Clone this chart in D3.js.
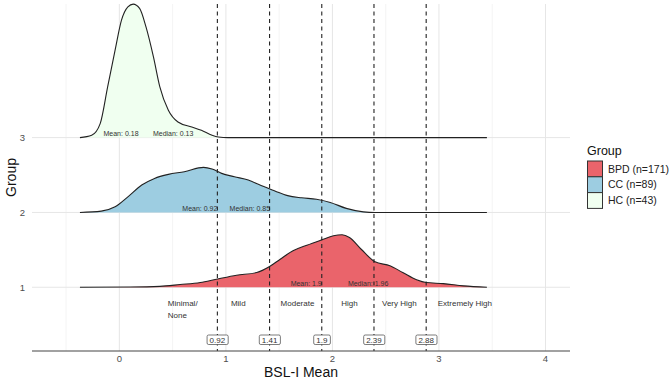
<!DOCTYPE html>
<html><head><meta charset="utf-8">
<script src="https://cdn.jsdelivr.net/npm/d3@7"></script>
<style>body{margin:0;background:#fff}svg{display:block;font-family:"Liberation Sans",Arial,sans-serif}</style>
</head><body><svg id="c" width="669" height="381"></svg>
<script>
// ---- data ----
const groups = ["BPD (n=171)", "CC (n=89)", "HC (n=43)"];
const groupLevels = [1, 2, 3];
const groupColors = ["#EA646B", "#9DCDE1", "#F0FFF0"];
// density heights (in group units): [BSL-I value, height]
const densityBPD = [[-0.37,0],[0.10,0.003],[0.38,0.012],[0.57,0.036],[0.76,0.063],[0.91,0.107],[1.10,0.161],[1.29,0.197],[1.41,0.277],[1.51,0.375],[1.63,0.487],[1.76,0.562],[1.90,0.634],[2.01,0.688],[2.09,0.701],[2.16,0.665],[2.27,0.508],[2.40,0.340],[2.54,0.287],[2.66,0.197],[2.79,0.100],[2.88,0.063],[3.04,0.049],[3.23,0.019],[3.45,0]];
const densityCC = [[-0.37,0],[-0.17,0.017],[-0.04,0.075],[0.08,0.209],[0.21,0.366],[0.33,0.455],[0.46,0.509],[0.61,0.544],[0.79,0.602],[0.87,0.580],[0.96,0.522],[1.08,0.477],[1.21,0.433],[1.33,0.359],[1.46,0.288],[1.58,0.225],[1.71,0.196],[1.85,0.177],[1.98,0.134],[2.13,0.054],[2.29,0.008],[2.40,0],[3.45,0]];
const densityHC = [[-0.37,0],[-0.26,0.031],[-0.18,0.187],[-0.11,0.678],[-0.04,1.169],[0.02,1.57],[0.08,1.748],[0.13,1.785],[0.19,1.727],[0.25,1.48],[0.32,1.079],[0.38,0.678],[0.46,0.366],[0.55,0.209],[0.68,0.142],[0.77,0.098],[0.87,0.031],[0.93,0.008],[1.02,0],[3.45,0]];
const densities = [densityBPD, densityCC, densityHC];
const means = [1.9, 0.92, 0.18];
const medians = [1.96, 0.85, 0.13];
const cutoffs = [0.92, 1.41, 1.9, 2.39, 2.88];
const cutoffLabels = ["0.92", "1.41", "1.9", "2.39", "2.88"];
const severityLabels = ["Minimal/\nNone", "Mild", "Moderate", "High", "Very High", "Extremely High"];
const severityX = [0.455, 1.116, 1.672, 2.16, 2.628, 3.243];
const severityAnchor = ["start", "middle", "middle", "middle", "middle", "middle"];
const xTicks = [0, 1, 2, 3, 4];
const xMinor = [-0.5, 0.5, 1.5, 2.5, 3.5];

// ---- layout ----
const svg = d3.select("#c");
const x = d3.scaleLinear().domain([-0.82, 4.23]).range([32, 570]);
const y = d3.scaleLinear().domain([0.148, 4.786]).range([351, 4]);
const panelTop = 4, panelBottom = 351;

// grid
const grid = svg.append("g");
grid.selectAll(".mn").data(xMinor).join("line")
  .attr("x1", d => x(d)).attr("x2", d => x(d)).attr("y1", panelTop).attr("y2", panelBottom)
  .attr("stroke", "#EDEDED").attr("stroke-width", 0.6);
grid.selectAll(".mj").data(xTicks).join("line")
  .attr("x1", d => x(d)).attr("x2", d => x(d)).attr("y1", panelTop).attr("y2", panelBottom)
  .attr("stroke", "#E6E6E6").attr("stroke-width", 1);
grid.selectAll(".hy").data(groupLevels).join("line")
  .attr("x1", x.range()[0]).attr("x2", x.range()[1]).attr("y1", d => y(d)).attr("y2", d => y(d))
  .attr("stroke", "#E6E6E6").attr("stroke-width", 1);

// ridges (top group first)
const order = [2, 1, 0];
order.forEach(i => {
  const g = groupLevels[i];
  const area = d3.area().x(d => x(d[0])).y0(y(g)).y1(d => y(g + d[1])).curve(d3.curveMonotoneX);
  const line = d3.line().x(d => x(d[0])).y(d => y(g + d[1])).curve(d3.curveMonotoneX);
  svg.append("path").datum(densities[i]).attr("d", area).attr("fill", groupColors[i]);
  svg.append("path").datum(densities[i]).attr("d", line).attr("fill", "none")
    .attr("stroke", "#222").attr("stroke-width", 1.1);
});

// mean / median labels
groupLevels.forEach((g, i) => {
  svg.append("text").attr("x", x(means[i])).attr("y", y(g) - 1.5)
    .attr("text-anchor", "end").attr("font-size", 7).attr("fill", "#333")
    .text("Mean: " + means[i]);
  svg.append("text").attr("x", x(medians[i] + 0.185)).attr("y", y(g) - 1.5)
    .attr("text-anchor", "start").attr("font-size", 7).attr("fill", "#333")
    .text("Median: " + medians[i]);
});

// cutoff dashed lines
svg.selectAll(".cut").data(cutoffs).join("line")
  .attr("x1", d => x(d)).attr("x2", d => x(d)).attr("y1", panelTop).attr("y2", panelBottom)
  .attr("stroke", "#222").attr("stroke-width", 1.1).attr("stroke-dasharray", "4,3.5");

// severity labels
severityLabels.forEach((s, i) => {
  const t = svg.append("text").attr("x", x(severityX[i])).attr("y", 306)
    .attr("text-anchor", severityAnchor[i]).attr("font-size", 8).attr("fill", "#333");
  s.split("\n").forEach((ln, k) => {
    t.append("tspan").attr("x", x(severityX[i])).attr("dy", k ? 12 : 0).text(ln);
  });
});

// cutoff boxes
cutoffs.forEach((c, i) => {
  const gg = svg.append("g");
  const t = gg.append("text").attr("x", x(c)).attr("y", 342.5).attr("text-anchor", "middle")
    .attr("font-size", 8).attr("fill", "#333").text(cutoffLabels[i]);
  const bb = t.node().getBBox();
  gg.insert("rect", "text").attr("x", bb.x - 2.5).attr("y", 335).attr("width", bb.width + 5).attr("height", 9.5)
    .attr("rx", 1.5).attr("fill", "#fff").attr("stroke", "#444").attr("stroke-width", 0.7);
});

// x axis
svg.append("line").attr("x1", x.range()[0]).attr("x2", x.range()[1]).attr("y1", panelBottom).attr("y2", panelBottom)
  .attr("stroke", "#444").attr("stroke-width", 1.2);
svg.selectAll(".xt").data(xTicks).join("text")
  .attr("x", d => x(d)).attr("y", 362).attr("text-anchor", "middle")
  .attr("font-size", 9.5).attr("fill", "#4D4D4D").text(d => d);
svg.append("text").attr("x", (x.range()[0] + x.range()[1]) / 2).attr("y", 376.5)
  .attr("text-anchor", "middle").attr("font-size", 14).attr("fill", "#111").text("BSL-I Mean");

// y axis
svg.selectAll(".yt").data(groupLevels).join("text")
  .attr("x", 25).attr("y", d => y(d) + 3.5).attr("text-anchor", "end")
  .attr("font-size", 9.5).attr("fill", "#4D4D4D").text(d => d);
svg.append("text").attr("transform", `translate(16,${(panelTop + panelBottom) / 2}) rotate(-90)`)
  .attr("text-anchor", "middle").attr("font-size", 14).attr("fill", "#111").text("Group");

// legend
const lg = svg.append("g");
lg.append("text").attr("x", 587).attr("y", 155).attr("font-size", 12.5).attr("fill", "#111").text("Group");
groups.forEach((gname, i) => {
  lg.append("rect").attr("x", 587.5).attr("y", 161 + i * 15.8).attr("width", 15).attr("height", 15.8)
    .attr("fill", groupColors[i]).attr("stroke", "#333").attr("stroke-width", 1);
  lg.append("text").attr("x", 608).attr("y", 161 + i * 15.8 + 11.5).attr("font-size", 10.5)
    .attr("fill", "#222").text(gname);
});
</script></body></html>
